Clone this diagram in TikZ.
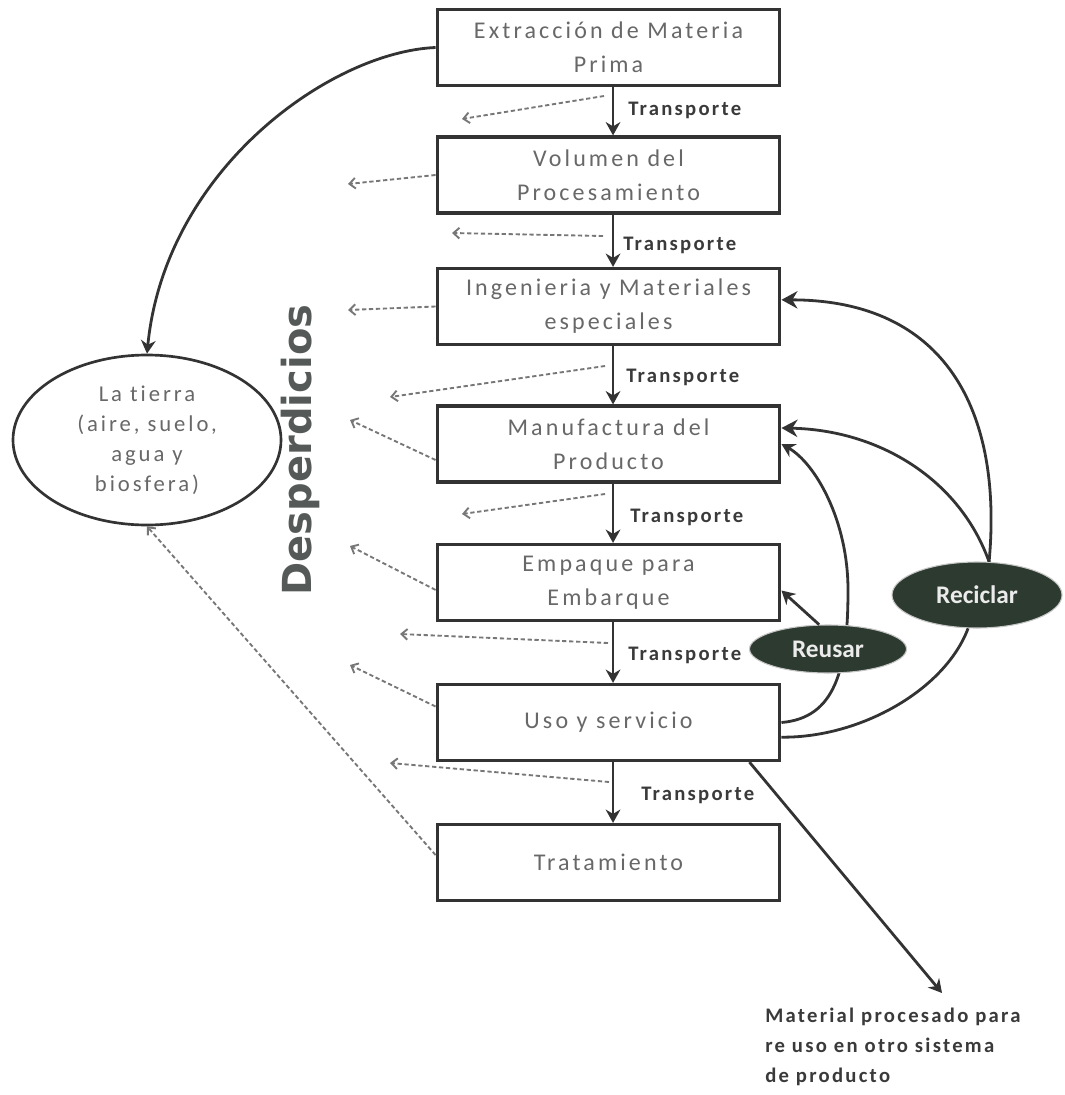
\documentclass[tikz,border=0pt]{standalone}
\usepackage{fontspec}
\setmainfont{Carlito}
\newfontfamily\boxfont[LetterSpace=13,Ligatures=NoCommon]{Carlito}
\newfontfamily\labfont[LetterSpace=11,Ligatures=NoCommon]{Carlito}
\newfontfamily\despfont{DejaVu Sans}
\usetikzlibrary{arrows.meta,shapes.geometric}
\definecolor{boxtext}{HTML}{686868}
\definecolor{linecol}{HTML}{333333}
\definecolor{dashcol}{HTML}{777777}
\definecolor{despcol}{HTML}{555A58}
\definecolor{transcol}{HTML}{3A3A3A}
\definecolor{ovalfill}{HTML}{2C3A30}
\begin{document}
\begin{tikzpicture}[x=0.75pt,y=-0.75pt,
  box/.style={draw=linecol, line width=2.4pt, minimum width=257pt, minimum height=57pt,
    inner sep=2pt, align=center, text=boxtext, font=\boxfont\fontsize{18}{25.5}\selectfont},
  flow/.style={draw=linecol, line width=2.1pt, -{Stealth[length=10pt,width=11pt]}},
  bigflow/.style={draw=linecol, line width=2.1pt, -{Stealth[length=12pt,width=13pt]}},
  plainline/.style={draw=linecol, line width=2.1pt},
  waste/.style={draw=dashcol, line width=1.4pt, dash pattern=on 3.2pt off 2pt,
    -{Straight Barb[length=4.5pt,width=8pt]}},
  trans/.style={font=\labfont\bfseries\fontsize{15.5}{18}\selectfont, text=transcol,
    anchor=west, inner sep=0pt},
  oval/.style={ellipse, fill=ovalfill, draw=gray!45, line width=0.8pt, text=white!92!black,
    font=\bfseries\fontsize{19}{22}\selectfont, inner sep=0pt}
]
\fill[white] (0,0) rectangle (1064,1095);
\useasboundingbox (0,0) rectangle (1064,1095);

% main chain
\node[box] (b1) at (608.5,47.5) {Extracción de Materia\\Prima};
\node[box] (b2) at (608.5,175) {Volumen del\\Procesamiento};
\node[box] (b3) at (608.5,306.5) {Ingenieria y Materiales\\especiales};
\node[box] (b4) at (608.5,444) {Manufactura del\\Producto};
\node[box] (b5) at (608.5,582.5) {Empaque para\\Embarque};
\node[box] (b6) at (608.5,722.5) {Uso y servicio};
\node[box] (b7) at (608.5,862.5) {Tratamiento};

\draw[flow] ([xshift=3.4pt]b1.south) -- ([xshift=3.4pt]b2.north);
\draw[flow] ([xshift=3.4pt]b2.south) -- ([xshift=3.4pt]b3.north);
\draw[flow] ([xshift=3.4pt]b3.south) -- ([xshift=3.4pt]b4.north);
\draw[flow] ([xshift=3.4pt]b4.south) -- ([xshift=3.4pt]b5.north);
\draw[flow] ([xshift=3.4pt]b5.south) -- ([xshift=3.4pt]b6.north);
\draw[flow] ([xshift=3.4pt]b6.south) -- ([xshift=3.4pt]b7.north);

\node[trans] (t1) at (628,110) {Transporte};
\node[trans] (t2) at (623,245) {Transporte};
\node[trans] (t3) at (626,377) {Transporte};
\node[trans] (t4) at (630,517) {Transporte};
\node[trans] (t5) at (628,655) {Transporte};
\node[trans] (t6) at (641,795) {Transporte};

% earth
\node[ellipse, draw=linecol, line width=2pt, minimum width=201pt, minimum height=127.5pt,
  inner sep=0pt, align=center, text=boxtext, font=\boxfont\fontsize{17}{22.5}\selectfont]
  (tierra) at (147,440) {La tierra\\(aire, suelo,\\agua y\\biosfera)};

\node[rotate=90, text=despcol, font=\despfont\bfseries\fontsize{30}{36}\selectfont]
  (desp) at (300,450) {Desperdicios};

\draw[flow] (b1.west) .. controls (330,52) and (165,170) .. (tierra.north);

% waste arrows
\coordinate (d1s) at (604,96);   \coordinate (d1e) at (462,119);
\coordinate (d2e) at (348,184);
\coordinate (d3s) at (603,236);  \coordinate (d3e) at (452,233);
\coordinate (d4e) at (348,310);
\coordinate (d5s) at (605,366);  \coordinate (d5e) at (390,397);
\coordinate (d6e) at (350,420);
\coordinate (d7s) at (605,494);  \coordinate (d7e) at (462,514);
\coordinate (d8e) at (350,546);
\coordinate (d9s) at (608,643);  \coordinate (d9e) at (400,634);
\coordinate (d10e) at (350,665);
\coordinate (d11s) at (609,782); \coordinate (d11e) at (390,763);

\draw[waste] (d1s) -- (d1e);
\draw[waste] (b2.west) -- (d2e);
\draw[waste] (d3s) -- (d3e);
\draw[waste] (b3.west) -- (d4e);
\draw[waste] (d5s) -- (d5e);
\draw[waste] ([yshift=-12pt]b4.west) -- (d6e);
\draw[waste] (d7s) -- (d7e);
\draw[waste] ([yshift=-5.6pt]b5.west) -- (d8e);
\draw[waste] (d9s) -- (d9e);
\draw[waste] ([yshift=12pt]b6.west) -- (d10e);
\draw[waste] (d11s) -- (d11e);
\draw[waste] ([yshift=5.6pt]b7.west) -- (tierra.south);

% reuse / recycle loops
\draw[flow] (b6.east) .. controls (835,718) and (848,670) .. (848,590)
  .. controls (848,520) and (815,463) .. (b4.east);

\node[oval, minimum width=127.5pt, minimum height=49.5pt] (rec) at (977,595) {Reciclar};
\node[oval, minimum width=117.75pt, minimum height=36pt] (reu) at (828,649) {Reusar};

\draw[bigflow] (rec.70) .. controls (1003,410) and (945,300) .. ([yshift=5pt]b3.east);
\draw[bigflow] (rec.70) .. controls (960,480) and (880,430) .. ([yshift=12pt]b4.east);
\draw[plainline] (rec.255) .. controls (945,690) and (860,738) .. ([yshift=-11pt]b6.east);
\draw[flow] (reu.110) -- ([yshift=-6pt]b5.east);

% output material
\node[anchor=north west, align=left, inner sep=0pt, text=transcol,
  font=\labfont\bfseries\fontsize{15.5}{22.5}\selectfont]
  (mat) at (765,1008) {Material procesado para\\re uso en otro sistema\\de producto};
\coordinate (mtip) at (942,993);
\draw[flow] ([xshift=-24pt]b6.south east) -- (mtip);
\end{tikzpicture}
\end{document}
